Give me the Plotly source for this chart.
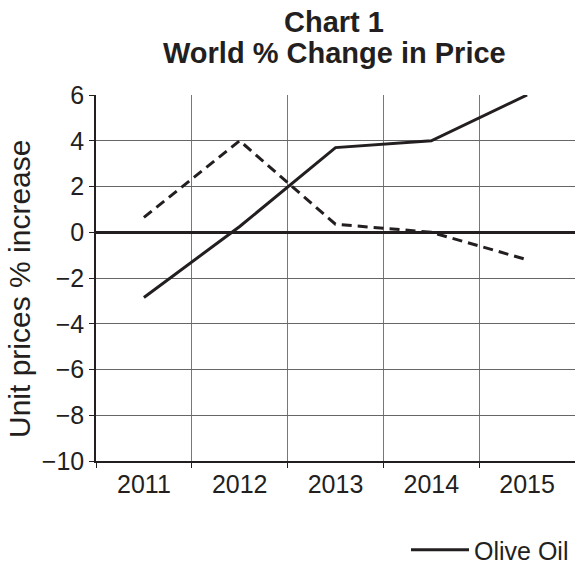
import plotly.graph_objects as go

years = ['2011', '2012', '2013', '2014', '2015']
olive_oil = [-2.85, 0.25, 3.7, 4.0, 6.0]
other_oil = [0.65, 4.0, 0.35, 0.0, -1.2]
y_ticks = [-10, -8, -6, -4, -2, 0, 2, 4, 6]
y_tick_text = ['\u221210', '\u22128', '\u22126', '\u22124', '\u22122', '0', '2', '4', '6']

FONT = 'Liberation Sans, Arial, sans-serif'
INK = '#231f20'

fig = go.Figure()
fig.add_trace(go.Scatter(x=years, y=olive_oil, mode='lines', name='Olive Oil',
                         line=dict(color=INK, width=3)))
fig.add_trace(go.Scatter(x=years, y=other_oil, mode='lines', name='Other oils',
                         line=dict(color=INK, width=3, dash='10px,6px'),
                         showlegend=False))

W, H = 575, 562
top, bottom, left = 95, 101, 96
plot_h = H - top - bottom
plot_w = W - left

def py(p):
    return (H - bottom - p) / plot_h

def px(p):
    return (p - left) / plot_w

fig.update_layout(
    width=W, height=H,
    margin=dict(l=left, r=0, t=top, b=bottom, autoexpand=False),
    paper_bgcolor='white', plot_bgcolor='white',
    font=dict(family=FONT, color=INK, size=25),
    showlegend=True,
    legend=dict(orientation='h', xref='container', yref='container',
                x=406 / W, xanchor='left',
                y=1 - 550 / H, yanchor='middle', font=dict(size=25, color=INK),
                itemwidth=58, bgcolor='rgba(0,0,0,0)'),
    xaxis=dict(type='category', range=[-0.5, 4.5], tickson='boundaries',
               ticks='outside', ticklen=5, tickcolor=INK, automargin=False,
               showgrid=True, gridcolor='#777', gridwidth=1.2,
               showline=True, linecolor=INK, linewidth=1.5,
               tickfont=dict(size=25, color=INK), fixedrange=True),
    yaxis=dict(range=[-10, 6], tickvals=y_ticks, ticktext=y_tick_text,
               ticks='outside', ticklen=5, tickcolor=INK, automargin=False,
               showgrid=True, gridcolor='#666', gridwidth=1.2,
               zeroline=True, zerolinecolor=INK, zerolinewidth=2.5,
               showline=True, linecolor=INK, linewidth=1.5,
               tickfont=dict(size=25, color=INK), fixedrange=True),
    annotations=[
        dict(text='<b>Chart 1</b>', xref='paper', yref='paper',
             x=px(334), y=py(22), xanchor='center', yanchor='middle',
             showarrow=False, font=dict(size=29, color=INK)),
        dict(text='<b>World % Change in Price</b>', xref='paper', yref='paper',
             x=px(334), y=py(53), xanchor='center', yanchor='middle',
             showarrow=False, font=dict(size=29, color=INK)),
        dict(text='Unit prices % increase', xref='paper', yref='paper',
             x=px(19), y=py(289), xanchor='center', yanchor='middle',
             textangle=-90, showarrow=False, font=dict(size=30, color=INK)),
    ],
)

fig.write_html('out.html', config={'displayModeBar': False},
               post_script="document.body.style.margin='0';")
